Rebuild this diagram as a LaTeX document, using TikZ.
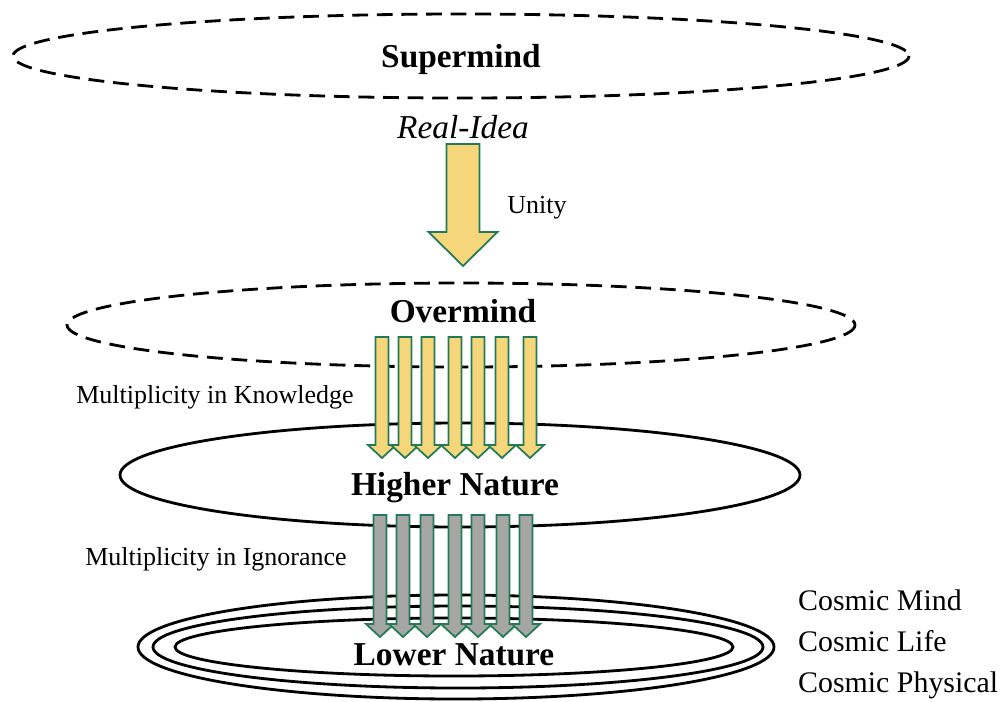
\documentclass[tikz,border=0pt]{standalone}
\usepackage{fontspec}
\setmainfont{Liberation Serif}
\usepackage{tikz}
\usetikzlibrary{positioning}

\definecolor{knowfill}{HTML}{F6D67A}
\definecolor{arrowline}{HTML}{237A57}
\definecolor{ignfill}{HTML}{A6A6A6}

\tikzset{
  plane/.style={line width=1.6pt},
  dplane/.style={line width=1.6pt, dash pattern=on 9pt off 5pt},
  title/.style={font=\fontsize{19}{22}\selectfont\bfseries},
  side/.style={font=\fontsize{14.8}{17}\selectfont},
  cosmic/.style={font=\fontsize{17}{20}\selectfont, anchor=west},
  knowarrow/.style={fill=knowfill, draw=arrowline, line width=1pt},
  ignarrow/.style={fill=ignfill, draw=arrowline, line width=1pt}
}

% #1 style, #2 centre x, #3 top, #4 head base, #5 tip
\newcommand{\thinarrow}[5]{%
  \draw[#1] (#2-6.5,#3) -- (#2+6.5,#3) -- (#2+6.5,#4) -- (#2+14,#4) -- (#2,#5)
    -- (#2-14,#4) -- (#2-6.5,#4) -- cycle;}

\begin{document}
\begin{tikzpicture}[x=0.02cm,y=-0.02cm]
  \useasboundingbox (0,0) rectangle (1000,701);

  % planes
  \draw[dplane] (461,56) ellipse [x radius=448, y radius=42];
  \draw[dplane] (461,325) ellipse [x radius=394, y radius=42];
  \draw[plane] (460,475) ellipse [x radius=340, y radius=52];
  \draw[plane] (456,647) ellipse [x radius=318, y radius=52];
  \draw[plane] (458,647) ellipse [x radius=305, y radius=41];
  \draw[plane] (454,647) ellipse [x radius=279, y radius=29];

  % unity
  \draw[knowarrow] (446.5,144) -- (479.5,144) -- (479.5,232) -- (497.5,232)
    -- (463,266) -- (428.5,232) -- (446.5,232) -- cycle;

  % multiplicity in knowledge
  \thinarrow{knowarrow}{382}{337}{445}{458}
  \thinarrow{knowarrow}{405}{337}{445}{458}
  \thinarrow{knowarrow}{428}{337}{445}{458}
  \thinarrow{knowarrow}{455}{337}{445}{458}
  \thinarrow{knowarrow}{478}{337}{445}{458}
  \thinarrow{knowarrow}{502}{337}{445}{458}
  \thinarrow{knowarrow}{530}{337}{445}{458}

  % multiplicity in ignorance
  \thinarrow{ignarrow}{380}{515}{624}{637}
  \thinarrow{ignarrow}{403}{515}{624}{637}
  \thinarrow{ignarrow}{427}{515}{624}{637}
  \thinarrow{ignarrow}{455}{515}{624}{637}
  \thinarrow{ignarrow}{478}{515}{624}{637}
  \thinarrow{ignarrow}{503}{515}{624}{637}
  \thinarrow{ignarrow}{526}{515}{624}{637}

  \node[title] (supermind) at (461,59) {Supermind};
  \node[font=\fontsize{19}{22}\selectfont\itshape] (realidea) at (463,127) {Real-Idea};
  \node[side] (unity) at (537,208) {Unity};
  \node[title] (overmind) at (463,311) {Overmind};
  \node[side] (knowledge) at (215,397) {Multiplicity in Knowledge};
  \node[title] (higher) at (455,488) {Higher Nature};
  \node[side] (ignorance) at (216,559) {Multiplicity in Ignorance};
  \node[title] (lower) at (454,655) {Lower Nature};

  \node[cosmic] (cmind) at (792,600) {Cosmic Mind};
  \node[cosmic] (clife) at (792,641) {Cosmic Life};
  \node[cosmic] (cphys) at (792,685) {Cosmic Physical};

\end{tikzpicture}
\end{document}
